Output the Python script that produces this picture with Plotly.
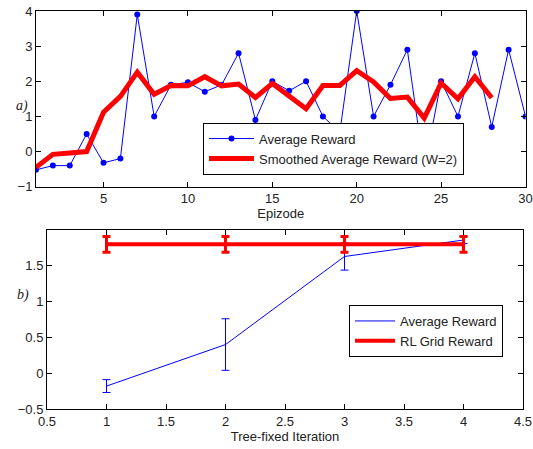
import plotly.graph_objects as go

# ---- Data: panel a) ----
episodes = list(range(1, 31))
avg_reward = [-0.52, -0.4, -0.4, 0.5, -0.32, -0.2, 3.9, 1.0, 1.9, 1.97,
              1.7, 1.9, 2.8, 0.9, 2.0, 1.73, 2.0, 1.0, 0.55, 4.0,
              1.0, 1.9, 2.9, -0.5, 2.0, 1.0, 2.8, 0.7, 2.9, 1.0]
smooth_episodes = list(range(1, 29))
smoothed_reward = [-0.45, -0.08, -0.04, 0.0, 1.12, 1.57, 2.26, 1.63, 1.88, 1.87,
                   2.13, 1.87, 1.92, 1.54, 1.94, 1.6, 1.22, 1.88, 1.88, 2.3,
                   1.98, 1.51, 1.55, 0.95, 1.95, 1.5, 2.13, 1.53]

# ---- Data: panel b) ----
iterations = [1, 2, 3, 4]
iter_avg = [-0.18, 0.4, 1.63, 1.86]
iter_avg_err = [0.09, 0.36, 0.19, 0.05]
rl_grid = [1.8, 1.8, 1.8, 1.8]
rl_grid_err = [0.11, 0.11, 0.11, 0.11]

W, H = 533, 449


def fx(px):
    return px / W


def fy(py):
    return 1 - py / H


FONT = "Liberation Sans, Arial, sans-serif"
TXT = "#222"
BLUE = "#0000FF"
RED = "#FF0000"

fig = go.Figure()

fig.add_trace(go.Scatter(
    x=episodes, y=avg_reward, mode="lines+markers", name="Average Reward",
    line=dict(color=BLUE, width=1), marker=dict(color=BLUE, size=6),
    xaxis="x", yaxis="y", legend="legend"))
fig.add_trace(go.Scatter(
    x=smooth_episodes, y=smoothed_reward, mode="lines",
    name="Smoothed Average Reward (W=2)",
    line=dict(color=RED, width=5),
    xaxis="x", yaxis="y", legend="legend"))

fig.add_trace(go.Scatter(
    x=iterations, y=iter_avg, mode="lines", name="Average Reward",
    line=dict(color=BLUE, width=1),
    error_y=dict(type="data", array=iter_avg_err, color=BLUE, thickness=1, width=4),
    xaxis="x2", yaxis="y2", legend="legend2"))
fig.add_trace(go.Scatter(
    x=iterations, y=rl_grid, mode="lines", name="RL Grid Reward",
    line=dict(color=RED, width=4),
    error_y=dict(type="data", array=rl_grid_err, color=RED, thickness=3, width=4),
    xaxis="x2", yaxis="y2", legend="legend2"))

axis_common = dict(
    showline=True, linecolor="black", linewidth=1, mirror="ticks",
    ticks="inside", ticklen=5, tickcolor="black", showgrid=False,
    zeroline=False, automargin=False, ticklabeloverflow="allow",
    tickfont=dict(family=FONT, size=13, color=TXT),
)

fig.update_layout(
    width=W, height=H,
    margin=dict(l=0, r=0, t=0, b=0, pad=0, autoexpand=False),
    paper_bgcolor="white", plot_bgcolor="white",
    font=dict(family=FONT, size=13, color=TXT),
    xaxis=dict(domain=[fx(36), fx(525.5)], range=[1, 30],
               tickvals=[5, 10, 15, 20, 25, 30], anchor="y",
               title=dict(text="Epizode", standoff=2,
                          font=dict(family=FONT, size=13, color=TXT)),
               **axis_common),
    yaxis=dict(domain=[fy(186.7), fy(11)], range=[-1, 4],
               tickvals=[-1, 0, 1, 2, 3, 4], anchor="x", **axis_common),
    xaxis2=dict(domain=[fx(47), fx(523)], range=[0.5, 4.5],
                tickvals=[0.5, 1, 1.5, 2, 2.5, 3, 3.5, 4, 4.5], anchor="y2",
                title=dict(text="Tree-fixed Iteration", standoff=2,
                           font=dict(family=FONT, size=13, color=TXT)),
                **axis_common),
    yaxis2=dict(domain=[fy(409), fy(230)], range=[-0.5, 2.0],
                tickvals=[-0.5, 0, 0.5, 1, 1.5], anchor="x2", **axis_common),
    legend=dict(x=fx(203), y=fy(148.6), xanchor="left", yanchor="middle",
                bgcolor="white", bordercolor="black", borderwidth=1,
                font=dict(family=FONT, size=13, color=TXT),
                tracegroupgap=0, itemwidth=45),
    legend2=dict(x=fx(349), y=fy(331), xanchor="left", yanchor="middle",
                 bgcolor="white", bordercolor="black", borderwidth=1,
                 font=dict(family=FONT, size=13, color=TXT),
                 tracegroupgap=0, itemwidth=40),
    showlegend=True,
    annotations=[
        dict(text="<i>a)</i>", x=fx(14), y=fy(96), xref="paper", yref="paper",
             showarrow=False, font=dict(family="Liberation Serif, Times New Roman, serif",
                                        size=14, color=TXT)),
        dict(text="<i>b)</i>", x=fx(15), y=fy(305), xref="paper", yref="paper",
             showarrow=False, font=dict(family="Liberation Serif, Times New Roman, serif",
                                        size=14, color=TXT)),
    ],
)

fig.write_html("out.html",
               config={"displayModeBar": False},
               post_script="document.body.style.margin='0px';document.body.style.overflow='hidden';")
